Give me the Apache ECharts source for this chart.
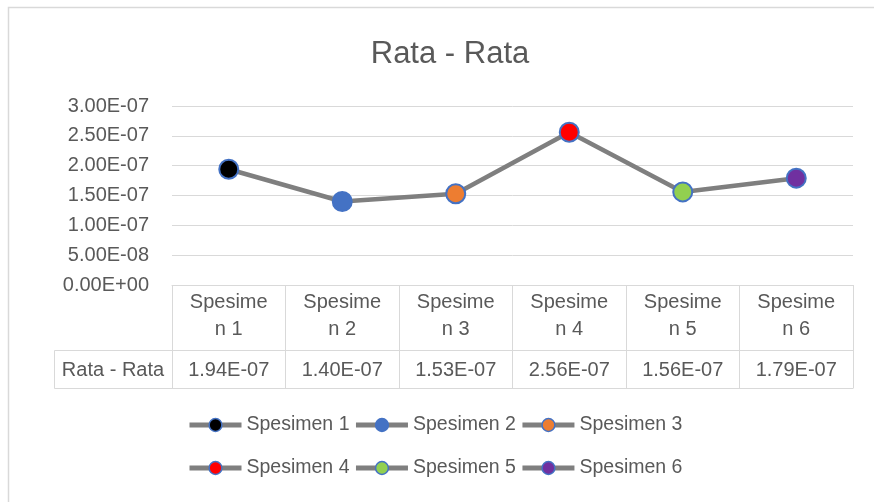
<!DOCTYPE html>
<html>
<head>
<meta charset="utf-8">
<script src="https://cdn.jsdelivr.net/npm/echarts@6/dist/echarts.min.js"></script>
<style>
  html, body { margin: 0; padding: 0; background: #fff; }
  #main { width: 874px; height: 502px; }
</style>
</head>
<body>
<div id="main"></div>
<script>
// data
const categories = ['Spesimen 1', 'Spesimen 2', 'Spesimen 3', 'Spesimen 4', 'Spesimen 5', 'Spesimen 6'];
const rataValues = [1.94e-7, 1.40e-7, 1.53e-7, 2.56e-7, 1.56e-7, 1.79e-7];
const pointColors = ['#000000', '#4472C4', '#ED7D31', '#FF0000', '#92D050', '#7030A0'];
const seriesName = 'Rata - Rata';
const yMax = 3e-7;
const yStep = 5e-8;

const FONT = '"Liberation Sans", Arial, sans-serif';
const TXT = '#595959';
const GRIDC = '#d9d9d9';

// Excel style scientific: 1.94E-07
function fmtE(v) {
  const parts = Number(v).toExponential(2).split('e');
  const e = parseInt(parts[1], 10);
  const sign = e < 0 ? '-' : '+';
  const n = Math.abs(e);
  return parts[0] + 'E' + sign + (n < 10 ? '0' : '') + n;
}

const chart = echarts.init(document.getElementById('main'), null, { renderer: 'canvas' });

// one point series per specimen, only for the coloured marker + legend entry
const pointSeries = categories.map((name, i) => ({
  name: name,
  type: 'line',
  data: rataValues.map((v, j) => (j === i ? v : null)),
  symbol: 'circle',
  symbolSize: 19,
  showAllSymbol: true,
  lineStyle: { color: '#7f7f7f', width: 4.5 },
  itemStyle: { color: pointColors[i], borderColor: '#4472C4', borderWidth: 2 },
  z: 3
}));

const legendCommon = {
  orient: 'horizontal',
  left: 187,
  padding: 0,
  itemWidth: 52,
  itemHeight: 16,
  itemGap: 4,
  textStyle: { color: TXT, fontSize: 19.5, fontFamily: FONT, lineHeight: 22 },
  lineStyle: { color: '#7f7f7f', width: 5 },
  itemStyle: { borderColor: '#4472C4', borderWidth: 1.5 }
};

const option = {
  animation: false,
  backgroundColor: '#fff',
  title: {
    text: seriesName,
    left: 445,
    textAlign: 'center',
    top: 34,
    textStyle: { color: TXT, fontSize: 31, fontWeight: 'normal', fontFamily: FONT }
  },
  legend: [
    Object.assign({}, legendCommon, { top: 414, data: categories.slice(0, 3) }),
    Object.assign({}, legendCommon, { top: 457, data: categories.slice(3) })
  ],
  grid: { left: 172, right: 21, top: 106, bottom: 217, containLabel: false },
  xAxis: [
    {
      type: 'category',
      data: categories,
      boundaryGap: true,
      axisLine: { show: true, lineStyle: { color: GRIDC, width: 1 } },
      axisTick: { show: true, length: 103, lineStyle: { color: GRIDC, width: 1 } },
      axisLabel: {
        color: TXT, fontSize: 20, fontFamily: FONT, lineHeight: 27, margin: 4,
        interval: 0,
        formatter: v => v.slice(0, 7) + '\n' + v.slice(7)
      },
      splitLine: { show: false }
    },
    {
      type: 'category',
      data: rataValues.map(fmtE),
      position: 'bottom',
      offset: 65,
      boundaryGap: true,
      axisLine: { show: false },
      axisTick: { show: false },
      axisLabel: { color: TXT, fontSize: 20, fontFamily: FONT, lineHeight: 20, margin: 10, interval: 0 },
      splitLine: { show: false }
    }
  ],
  yAxis: {
    type: 'value',
    min: 0,
    max: yMax,
    interval: yStep,
    axisLine: { show: false },
    axisTick: { show: false },
    axisLabel: { color: TXT, fontSize: 20, fontFamily: FONT, margin: 23, formatter: fmtE },
    splitLine: { lineStyle: { color: GRIDC, width: 1 } }
  },
  graphic: [
    // outer chart frame
    { type: 'rect', shape: { x: 8.5, y: 7.5, width: 900, height: 600 },
      style: { fill: 'none', stroke: GRIDC, lineWidth: 1.5 }, silent: true },
    // data table lines
    { type: 'polyline', shape: { points: [[853.5, 350.5], [54.5, 350.5], [54.5, 388.5], [853.5, 388.5]] },
      style: { fill: 'none', stroke: GRIDC, lineWidth: 1 }, silent: true },
    { type: 'text', x: 113, y: 370,
      style: { text: seriesName, fill: TXT, fontSize: 20, fontFamily: FONT, align: 'center', verticalAlign: 'middle' } }
  ],
  series: [
    {
      name: seriesName,
      type: 'line',
      data: rataValues,
      symbol: 'none',
      lineStyle: { color: '#7f7f7f', width: 4.5 },
      z: 2
    }
  ].concat(pointSeries)
};

chart.setOption(option);
</script>
</body>
</html>
